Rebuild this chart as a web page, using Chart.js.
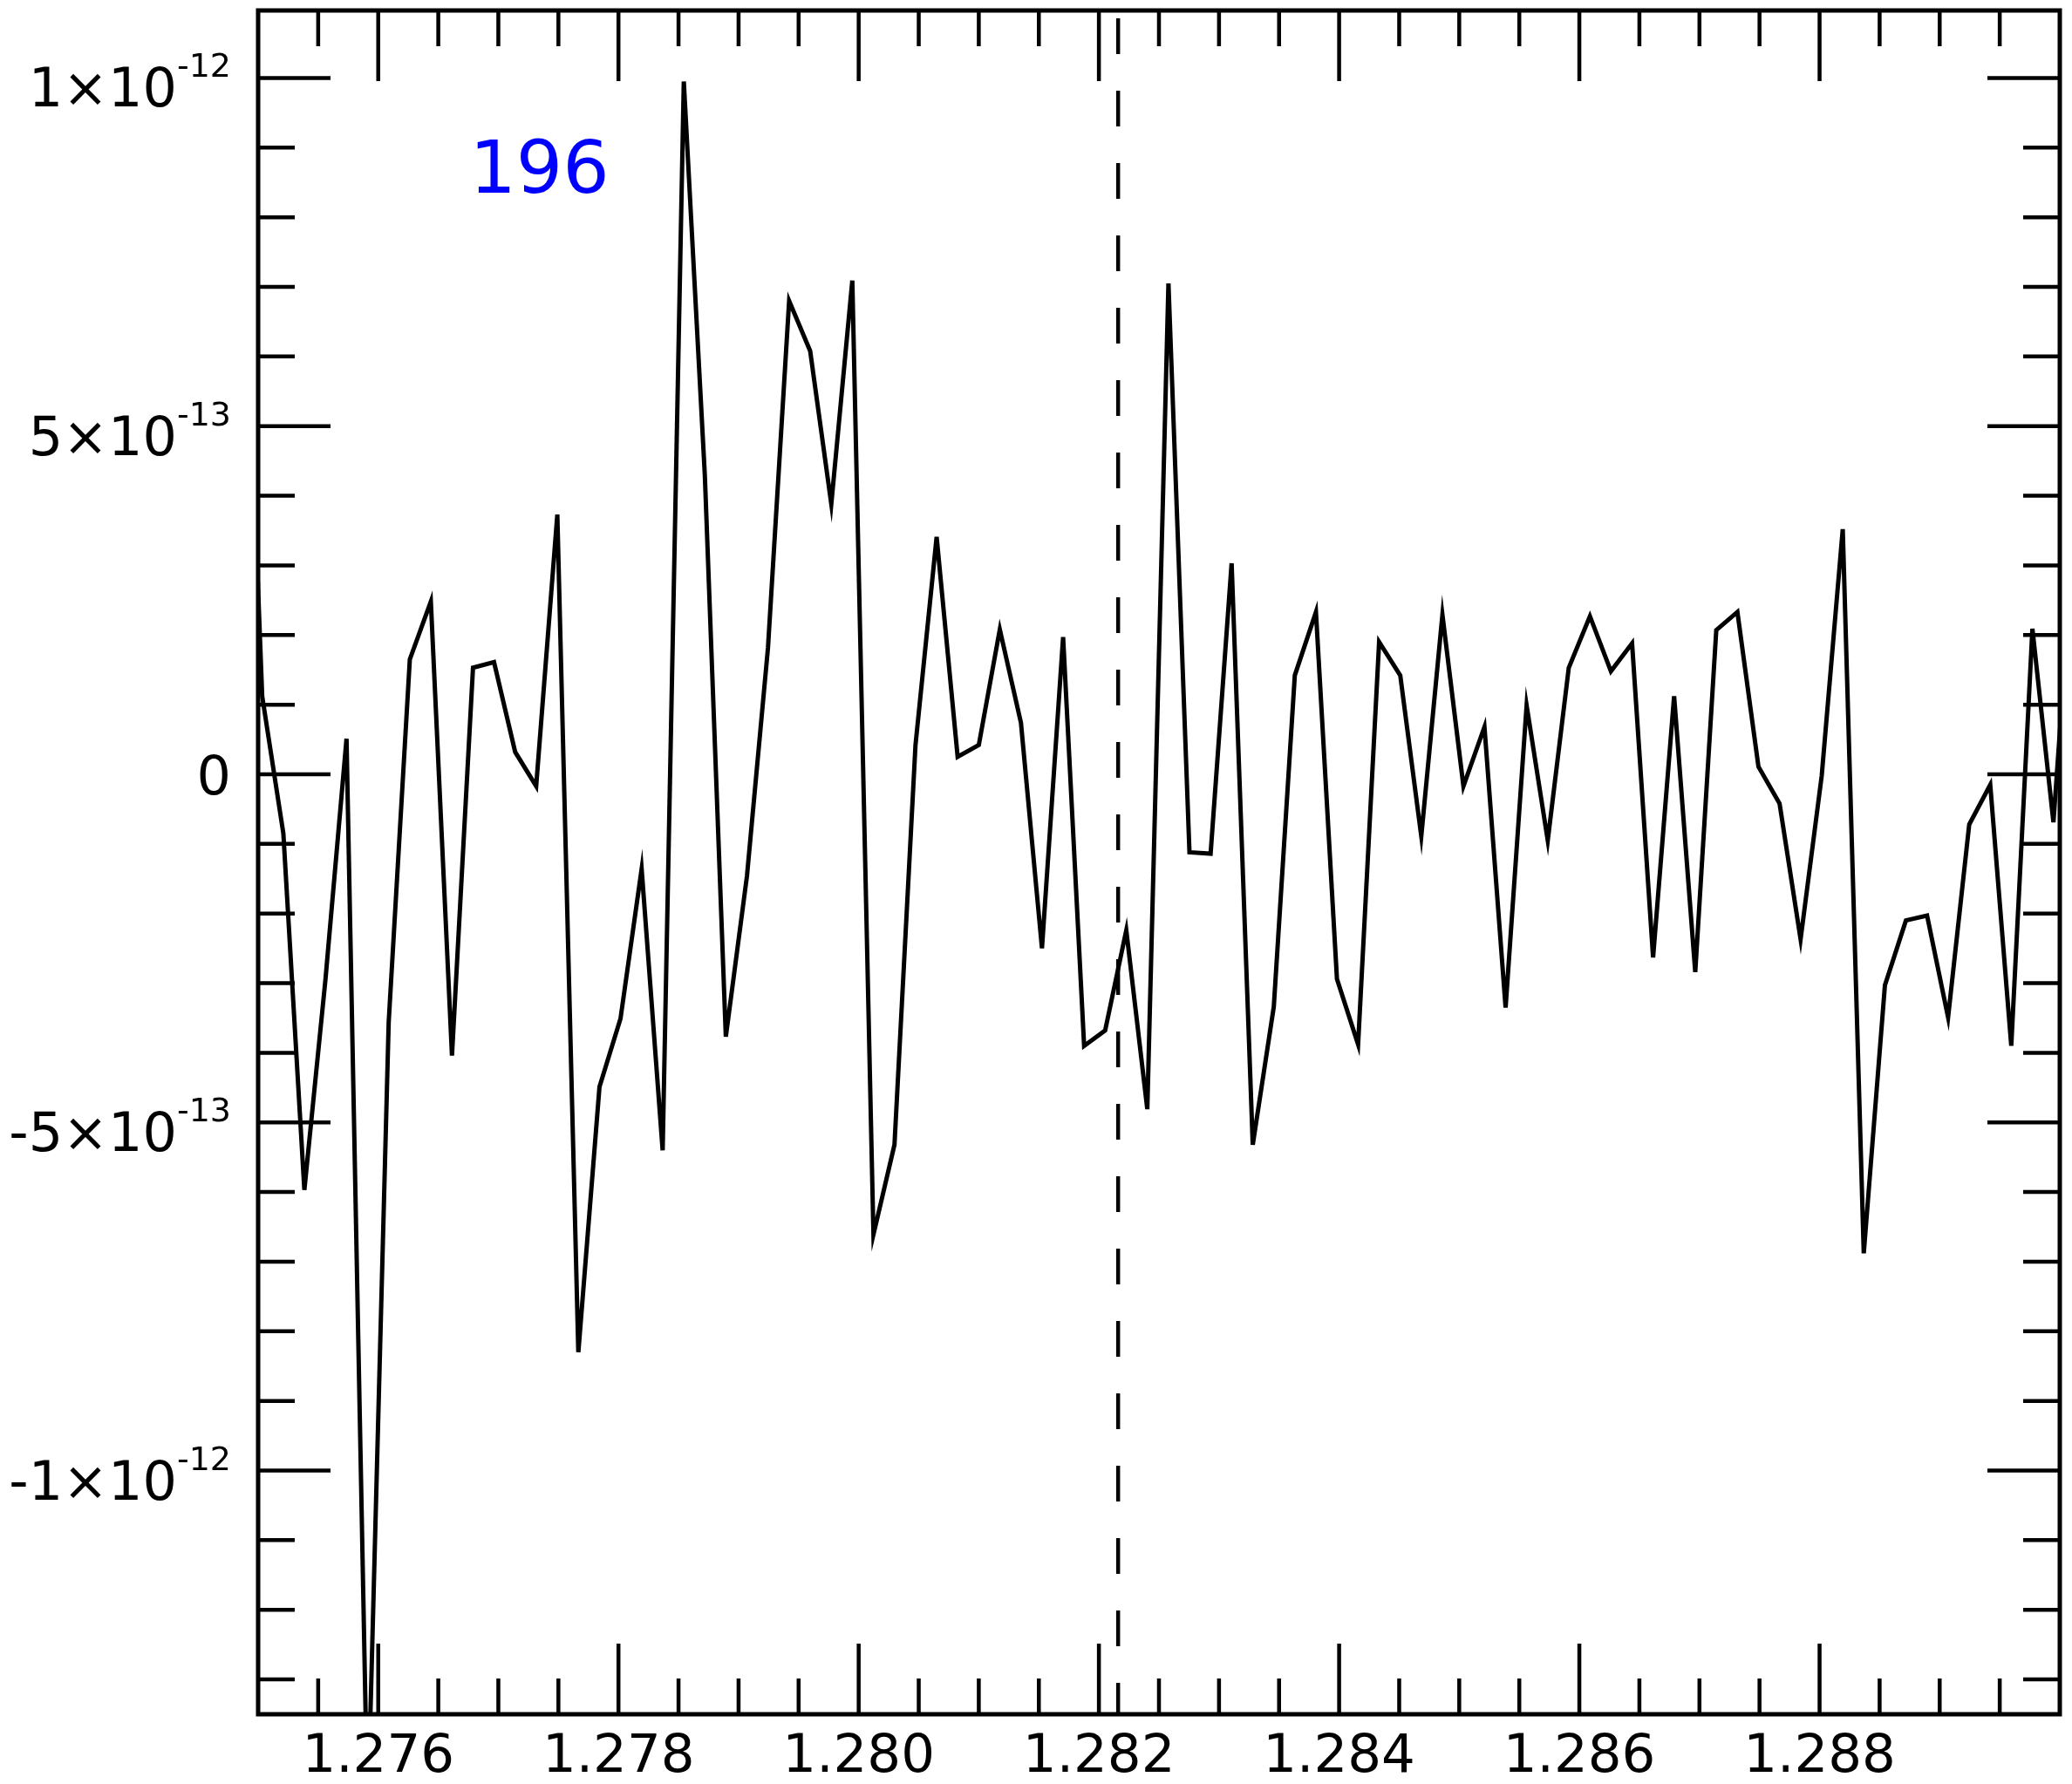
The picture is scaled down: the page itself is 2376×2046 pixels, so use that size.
<!DOCTYPE html>
<html>
<head>
<meta charset="utf-8">
<script src="https://cdn.jsdelivr.net/npm/chart.js@4.4.1/dist/chart.umd.min.js"></script>
<style>
  html, body { margin: 0; padding: 0; background: #ffffff; }
  canvas { display: block; }
</style>
</head>
<body>
<canvas id="c" width="2376" height="2046"></canvas>
<script>
// ---------------- data ----------------
const FLUX_UNIT = 1e-12;
const wavelength = [
  1.274859, 1.275034, 1.275210, 1.275385, 1.275561, 1.275736, 1.275912, 1.276087, 1.276263, 1.276438,
  1.276614, 1.276789, 1.276964, 1.277140, 1.277315, 1.277491, 1.277666, 1.277842, 1.278017, 1.278193,
  1.278368, 1.278544, 1.278719, 1.278894, 1.279070, 1.279245, 1.279421, 1.279596, 1.279772, 1.279947,
  1.280123, 1.280298, 1.280473, 1.280649, 1.280824, 1.281000, 1.281175, 1.281351, 1.281526, 1.281702,
  1.281877, 1.282052, 1.282228, 1.282403, 1.282579, 1.282754, 1.282930, 1.283105, 1.283281, 1.283456,
  1.283631, 1.283807, 1.283982, 1.284158, 1.284333, 1.284509, 1.284684, 1.284860, 1.285035, 1.285210,
  1.285386, 1.285561, 1.285737, 1.285912, 1.286088, 1.286263, 1.286439, 1.286614, 1.286789, 1.286965,
  1.287140, 1.287316, 1.287491, 1.287667, 1.287842, 1.288018, 1.288193, 1.288368, 1.288544, 1.288719,
  1.288895, 1.289070, 1.289246, 1.289421, 1.289596, 1.289772, 1.289947, 1.290123
];
// flux in units of 1e-12
const flux = [
  0.90, 0.112, -0.085, -0.597, -0.294, 0.051, -1.50, -0.356, 0.165, 0.248,
  -0.404, 0.153, 0.161, 0.032, -0.017, 0.373, -0.830, -0.449, -0.351, -0.136,
  -0.540, 0.995, 0.430, -0.377, -0.146, 0.182, 0.680, 0.608, 0.388, 0.709,
  -0.661, -0.532, 0.042, 0.341, 0.025, 0.042, 0.208, 0.074, -0.250, 0.197,
  -0.390, -0.368, -0.224, -0.481, 0.705, -0.112, -0.114, 0.303, -0.532, -0.334,
  0.142, 0.233, -0.294, -0.388, 0.190, 0.142, -0.089, 0.229, -0.017, 0.068,
  -0.335, 0.099, -0.095, 0.153, 0.227, 0.148, 0.188, -0.263, 0.112, -0.284,
  0.207, 0.233, 0.011, -0.042, -0.237, -0.002, 0.352, -0.688, -0.303, -0.210,
  -0.203, -0.349, -0.072, -0.015, -0.390, 0.209, -0.069, 0.36
];
const lineCenter = 1.28216;          // dashed reference line (Pa-beta)
const labelText = '196';
const labelAnchor = [1.27676, 0.835]; // [wavelength, flux(1e-12)]

const xMin = 1.275, xMax = 1.290;
const yMin = -1.35e-12, yMax = 1.097e-12;

const xMajorTicks = [1.276, 1.278, 1.280, 1.282, 1.284, 1.286, 1.288];
const xMajorLabels = ['1.276', '1.278', '1.280', '1.282', '1.284', '1.286', '1.288'];
const xMinorTicks = [1.2755, 1.2765, 1.2770, 1.2775, 1.2785, 1.2790, 1.2795, 1.2805, 1.2810, 1.2815,
  1.2825, 1.2830, 1.2835, 1.2845, 1.2850, 1.2855, 1.2865, 1.2870, 1.2875, 1.2885, 1.2890, 1.2895];
const yMajorTicks = [1e-12, 5e-13, 0, -5e-13, -1e-12];
const yMajorMantissa = ['1\u00d710', '5\u00d710', '0', '-5\u00d710', '-1\u00d710'];
const yMajorExponent = ['-12', '-13', '', '-13', '-12'];
const yMinorTicks = [-1.3e-12, -1.2e-12, -1.1e-12, -9e-13, -8e-13, -7e-13, -6e-13, -4e-13, -3e-13,
  -2e-13, -1e-13, 1e-13, 2e-13, 3e-13, 4e-13, 6e-13, 7e-13, 8e-13, 9e-13];

// ---------------- chart ----------------
const FONT = 'DejaVu Sans';
const spectrum = wavelength.map((w, i) => ({ x: w, y: flux[i] * FLUX_UNIT }));
const refLine = [{ x: lineCenter, y: yMax }, { x: lineCenter, y: yMin }];

const framePlugin = {
  id: 'frame',
  afterDatasetsDraw(chart) {
    const { ctx, chartArea: a, scales: { x, y } } = chart;
    ctx.save();
    ctx.strokeStyle = '#000';
    ctx.lineCap = 'butt';
    ctx.lineWidth = 4.5;
    const vtick = (v, len) => {
      const p = x.getPixelForValue(v);
      ctx.beginPath();
      ctx.moveTo(p, a.bottom); ctx.lineTo(p, a.bottom - len);
      ctx.moveTo(p, a.top); ctx.lineTo(p, a.top + len);
      ctx.stroke();
    };
    const htick = (v, len) => {
      const p = y.getPixelForValue(v);
      ctx.beginPath();
      ctx.moveTo(a.left, p); ctx.lineTo(a.left + len, p);
      ctx.moveTo(a.right, p); ctx.lineTo(a.right - len, p);
      ctx.stroke();
    };
    xMinorTicks.forEach(v => vtick(v, 41));
    xMajorTicks.forEach(v => vtick(v, 81));
    yMinorTicks.forEach(v => htick(v, 42));
    yMajorTicks.forEach(v => htick(v, 83));
    ctx.lineWidth = 5;
    ctx.strokeRect(a.left, a.top, a.right - a.left, a.bottom - a.top);

    // y tick labels with superscript exponents
    ctx.fillStyle = '#000';
    ctx.textBaseline = 'alphabetic';
    ctx.textAlign = 'left';
    const rightEdge = a.left - 31;
    yMajorTicks.forEach((v, i) => {
      const p = y.getPixelForValue(v);
      const main = yMajorMantissa[i], exp = yMajorExponent[i];
      ctx.font = '38px "' + FONT + '"';
      const ew = exp ? ctx.measureText(exp).width : 0;
      ctx.font = '62px "' + FONT + '"';
      const mw = ctx.measureText(main).width;
      if (exp) {
        ctx.fillText(main, rightEdge - ew - mw, p + 33);
        ctx.font = '38px "' + FONT + '"';
        ctx.fillText(exp, rightEdge - ew, p - 1);
      } else {
        ctx.fillText(main, rightEdge - mw, p + 23);
      }
    });

    // annotation
    ctx.fillStyle = '#0000ff';
    ctx.font = '84px "' + FONT + '"';
    ctx.fillText(labelText, x.getPixelForValue(labelAnchor[0]), y.getPixelForValue(labelAnchor[1] * FLUX_UNIT));
    ctx.restore();
  }
};

new Chart(document.getElementById('c'), {
  type: 'line',
  data: {
    datasets: [
      {
        data: spectrum,
        borderColor: '#000',
        borderWidth: 5,
        pointRadius: 0,
        tension: 0,
        fill: false,
        clip: 0
      },
      {
        data: refLine,
        borderColor: '#000',
        borderWidth: 4.5,
        borderDash: [41, 42],
        borderDashOffset: 74,
        borderCapStyle: 'butt',
        pointRadius: 0,
        fill: false,
        clip: 0
      }
    ]
  },
  options: {
    responsive: false,
    animation: false,
    devicePixelRatio: 1,
    layout: { padding: { top: 12, right: 14, left: 0, bottom: 0 } },
    plugins: { legend: { display: false }, tooltip: { enabled: false } },
    scales: {
      x: {
        type: 'linear',
        min: xMin,
        max: xMax,
        grid: { display: false, drawTicks: false },
        border: { display: false },
        afterBuildTicks: s => { s.ticks = xMajorTicks.map(v => ({ value: v })); },
        afterFit: s => { s.height = 80; },
        ticks: {
          color: '#000',
          padding: 14,
          maxRotation: 0,
          autoSkip: false,
          font: { family: FONT, size: 61 },
          callback: v => { const i = xMajorTicks.findIndex(t => Math.abs(t - v) < 1e-9); return i >= 0 ? xMajorLabels[i] : ''; }
        }
      },
      y: {
        type: 'linear',
        min: yMin,
        max: yMax,
        grid: { display: false, drawTicks: false },
        border: { display: false },
        afterBuildTicks: s => { s.ticks = yMajorTicks.map(v => ({ value: v })); },
        afterFit: s => { s.width = 296; },
        ticks: { display: false }
      }
    }
  },
  plugins: [framePlugin]
});
</script>
</body>
</html>
